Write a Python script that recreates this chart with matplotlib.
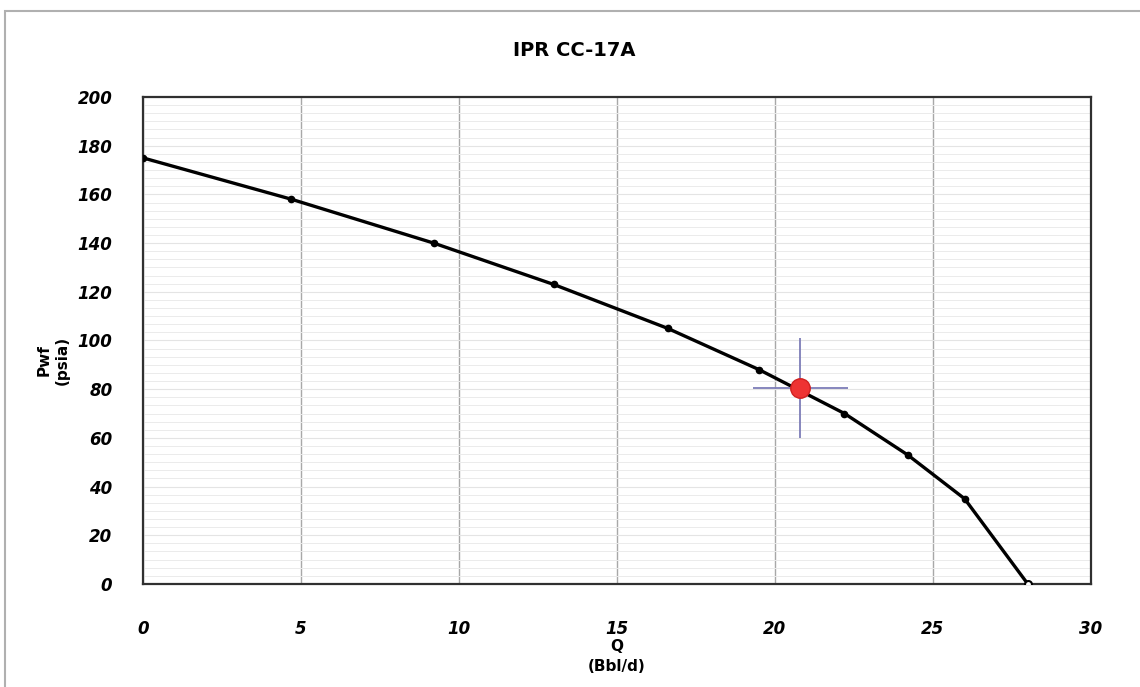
import matplotlib.pyplot as plt
from matplotlib.ticker import MultipleLocator
from matplotlib.patches import Rectangle

# IPR curve points
q = [0, 4.7, 9.2, 13.0, 16.6, 19.5, 22.2, 24.2, 26.0, 28.0]
pwf = [175, 158, 140, 123, 105, 88, 70, 53, 35, 0]

# operating point and its cross
q_op, pwf_op = 20.8, 80.5
q_err, pwf_err = 1.5, 20.5

fig = plt.figure(figsize=(11.4, 6.87), dpi=100)
ax = fig.add_axes([0.1254, 0.15, 0.8316, 0.7088])

# thin gray frame around the whole picture
fig.patches.append(Rectangle((0.004, -0.01), 1.1, 0.994, transform=fig.transFigure,
                             fill=False, edgecolor="#b0b0b0", linewidth=1.5))

ax.plot(q, pwf, color="black", linewidth=2.4, zorder=3)
ax.plot(q[:-1], pwf[:-1], "o", color="black", markersize=4.5, zorder=4)
ax.plot(q[-1], pwf[-1], "o", markerfacecolor="white", markeredgecolor="black",
        markersize=5, markeredgewidth=1.5, zorder=4)

ax.errorbar([q_op], [pwf_op], xerr=q_err, yerr=pwf_err, fmt="none",
            ecolor="#7d7db8", elinewidth=1.3, capsize=0, zorder=5)
ax.plot(q_op, pwf_op, "o", color="#ee3333", markeredgecolor="#d02020",
        markersize=14, zorder=6)

ax.set_xlim(0, 30)
ax.set_ylim(0, 200)
ax.xaxis.set_major_locator(MultipleLocator(5))
ax.yaxis.set_major_locator(MultipleLocator(20))
ax.yaxis.set_minor_locator(MultipleLocator(20 / 6))
ax.grid(True, axis="x", which="major", color="#a8a8a8", linewidth=1)
ax.grid(True, axis="y", which="major", color="#e4e4e4", linewidth=0.8)
ax.grid(True, axis="y", which="minor", color="#ebebeb", linewidth=0.7)
ax.set_axisbelow(True)

ax.tick_params(axis="both", which="both", length=0)
ax.tick_params(axis="y", pad=22)
ax.tick_params(axis="x", pad=26)
for lbl in ax.get_xticklabels() + ax.get_yticklabels():
    lbl.set_fontweight("bold")
    lbl.set_fontstyle("italic")
    lbl.set_fontsize(12)

for sp in ax.spines.values():
    sp.set_color("#303030")
    sp.set_linewidth(1.6)

ax.set_xlabel("Q\n(Bbl/d)", fontsize=11, fontweight="bold", linespacing=1.4)
ax.xaxis.set_label_coords(0.5, -0.113)
ax.set_ylabel("Pwf\n(psia)", fontsize=11, fontweight="bold", linespacing=1.3)
ax.yaxis.set_label_coords(-0.077, 0.46)

fig.text(0.504, 0.927, "IPR CC-17A", ha="center", va="center",
         fontsize=14, fontweight="bold")

fig.savefig("out.png", dpi=100)
